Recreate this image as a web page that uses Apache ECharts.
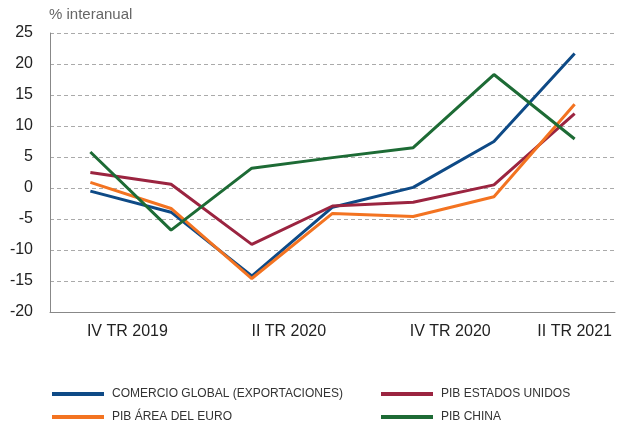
<!DOCTYPE html>
<html>
<head>
<meta charset="utf-8">
<script src="https://cdn.jsdelivr.net/npm/echarts@6/dist/echarts.min.js"></script>
<style>html,body{margin:0;padding:0;background:#fff;}#c{width:617px;height:428px;}</style>
</head>
<body>
<div id="c"></div>
<script>
const categories = ["IV TR 2019", "I TR 2020", "II TR 2020", "III TR 2020", "IV TR 2020", "I TR 2021", "II TR 2021"];
const comercioGlobal = [-0.5, -3.9, -14.2, -3.1, 0.1, 7.5, 21.7];
const pibEEUU = [2.5, 0.6, -9.1, -2.9, -2.3, 0.5, 12.0];
const pibEuro = [0.9, -3.3, -14.6, -4.1, -4.6, -1.4, 13.5];
const pibChina = [5.8, -6.8, 3.2, 4.9, 6.5, 18.3, 7.9];
const yTicks = {min: -20, max: 25, interval: 5};
const seriesNames = ["COMERCIO GLOBAL (EXPORTACIONES)", "PIB ESTADOS UNIDOS", "PIB ÁREA DEL EURO", "PIB CHINA"];
const colors = ["#0e4a86", "#9b2440", "#f37321", "#1d6b35"];

const chart = echarts.init(document.getElementById('c'));
const sans = '"Liberation Sans", Arial, Helvetica, sans-serif';
const seriesData = [comercioGlobal, pibEEUU, pibEuro, pibChina];

const legendBase = {
  orient: 'vertical', icon: 'rect', itemWidth: 52, itemHeight: 4, itemGap: 7, padding: 0,
  textStyle: {fontFamily: sans, fontSize: 12, color: '#333', lineHeight: 16, padding: [0, 0, 0, 3]}
};

chart.setOption({
  animation: false,
  color: colors,
  title: {
    text: '% interanual', left: 49, top: 7, padding: 0,
    textStyle: {fontFamily: sans, fontSize: 15, fontWeight: 'normal', color: '#666'}
  },
  legend: [
    Object.assign({left: 52, top: 386, data: [seriesNames[0], seriesNames[2]]}, legendBase),
    Object.assign({left: 381, top: 386, data: [seriesNames[1], seriesNames[3]]}, legendBase)
  ],
  grid: {left: 50, right: 2, top: 33, bottom: 116, containLabel: false},
  xAxis: {
    type: 'category', data: categories, boundaryGap: true,
    axisLine: {onZero: false, lineStyle: {color: '#888', width: 1}},
    axisTick: {inside: true, length: 5, interval: 1, lineStyle: {color: '#888'}},
    axisLabel: {
      interval: 1, margin: 12, fontFamily: sans, fontSize: 16, color: '#222',
      formatter: function (v, i) { return (i === 6 ? '{n|' : '{s|') + v + '}'; },
      rich: {
        s: {fontFamily: sans, fontSize: 16, color: '#222', padding: [0, 0, 0, 74]},
        n: {fontFamily: sans, fontSize: 16, color: '#222'}
      }
    },
    splitLine: {show: false}
  },
  yAxis: {
    type: 'value', min: yTicks.min, max: yTicks.max, interval: yTicks.interval,
    axisLine: {show: true, lineStyle: {color: '#888', width: 1}},
    axisTick: {show: false},
    axisLabel: {margin: 17, fontFamily: sans, fontSize: 16, color: '#222'},
    splitLine: {show: true, lineStyle: {color: '#aaa', type: [4, 3], width: 1}}
  },
  series: seriesNames.map((n, k) => ({
    name: n, type: 'line', data: seriesData[k], symbol: 'none',
    lineStyle: {width: 3, color: colors[k]}, itemStyle: {color: colors[k]}
  }))
});
</script>
</body>
</html>
